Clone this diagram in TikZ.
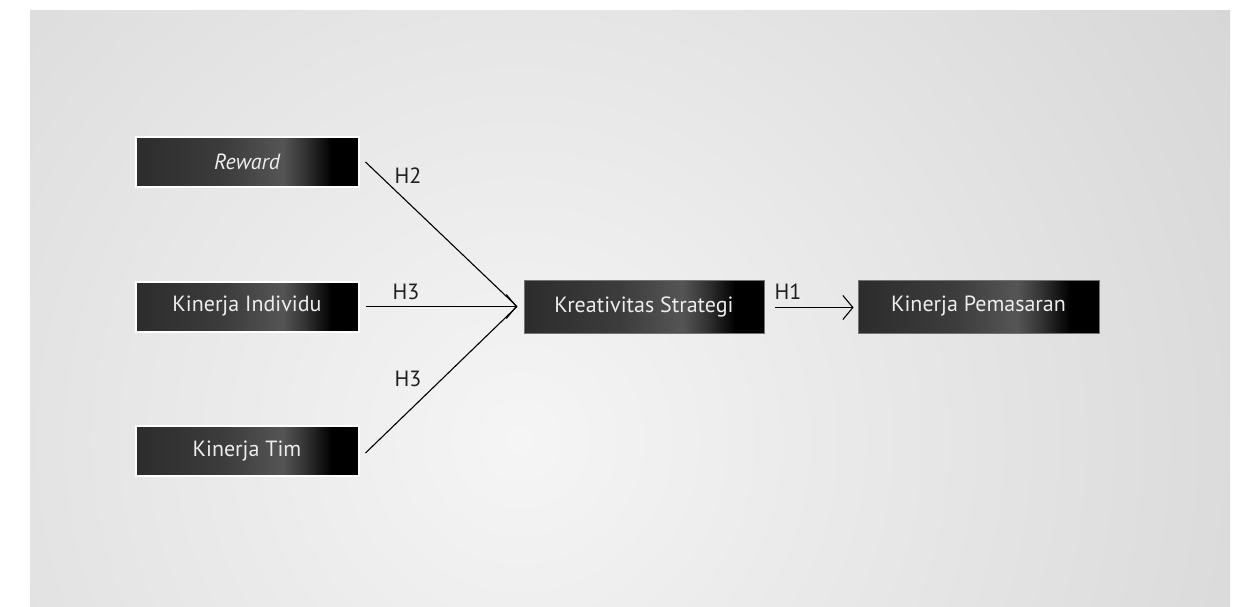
\documentclass[tikz,border=0pt]{standalone}
\usepackage{fontspec}
\setmainfont{PT Sans}
\usetikzlibrary{arrows.meta}
\definecolor{bglight}{HTML}{F5F5F5}
\definecolor{bgdark}{HTML}{CFCFD0}
\definecolor{boxa}{HTML}{2C2C2C}
\definecolor{boxb}{HTML}{555555}
\definecolor{boxc}{HTML}{333333}
\definecolor{txtc}{HTML}{EDEDED}
\definecolor{lblc}{HTML}{1E1E1E}
\pgfdeclarehorizontalshading{boxsh}{100bp}{color(0bp)=(boxa); color(25bp)=(boxa); color(45bp)=(boxa!60!boxb); color(58bp)=(boxb); color(63bp)=(boxc); color(69bp)=(black); color(100bp)=(black)}
\tikzset{
  varbox/.style={shading=boxsh, minimum height=50pt, inner sep=0pt,
    font=\fontsize{22}{25}\selectfont, text=txtc},
  leftbox/.style={varbox, draw=white, line width=2pt, minimum width=223pt},
  rightbox/.style={varbox, draw=black!55, line width=0.8pt, minimum height=53pt},
  link/.style={draw=black, line width=1.1pt},
  lbl/.style={font=\fontsize{22}{25}\selectfont, text=lblc, inner sep=0pt},
  tip/.style={-{Straight Barb[length=10pt,width=24pt,line width=1.1pt]}}
}
\begin{document}
\begin{tikzpicture}[x=1pt,y=-1pt]
\useasboundingbox (0,0) rectangle (1239,606);
\fill[white] (0,0) rectangle (1239,606);
\begin{scope}
\clip (30,10) rectangle (1230,606);
\fill[bgdark] (30,10) rectangle (1230,606);
\shade[inner color=bglight, outer color=bgdark] (520,440) circle (1050);
\end{scope}
\node[leftbox] (rew) at (247,162) {\itshape Reward};
\node[leftbox] (ind) at (247,306.5) {Kinerja Individu};
\node[leftbox] (tim) at (247,451) {Kinerja Tim};
\node[rightbox, minimum width=240pt] (kre) at (644,306.5) {Kreativitas Strategi};
\node[rightbox, minimum width=241pt] (pem) at (978.5,306.5) {Kinerja Pemasaran};
\coordinate (m) at (517,306.5);
\draw[link] ([xshift=6pt,yshift=0pt]rew.east) -- (m);
\draw[link] ([xshift=6pt,yshift=-2pt]tim.east) -- (m);
\draw[link,tip] ([xshift=6pt]ind.east) -- (m);
\draw[link,tip] ([xshift=11pt,yshift=-1pt]kre.east) -- ([xshift=-4pt,yshift=-1pt]pem.west);
\node[lbl] (h2) at (408,176) {H2};
\node[lbl] (h3a) at (406,292) {H3};
\node[lbl] (h3b) at (408,379) {H3};
\node[lbl] (h1) at (788,292) {H1};
\end{tikzpicture}
\end{document}
